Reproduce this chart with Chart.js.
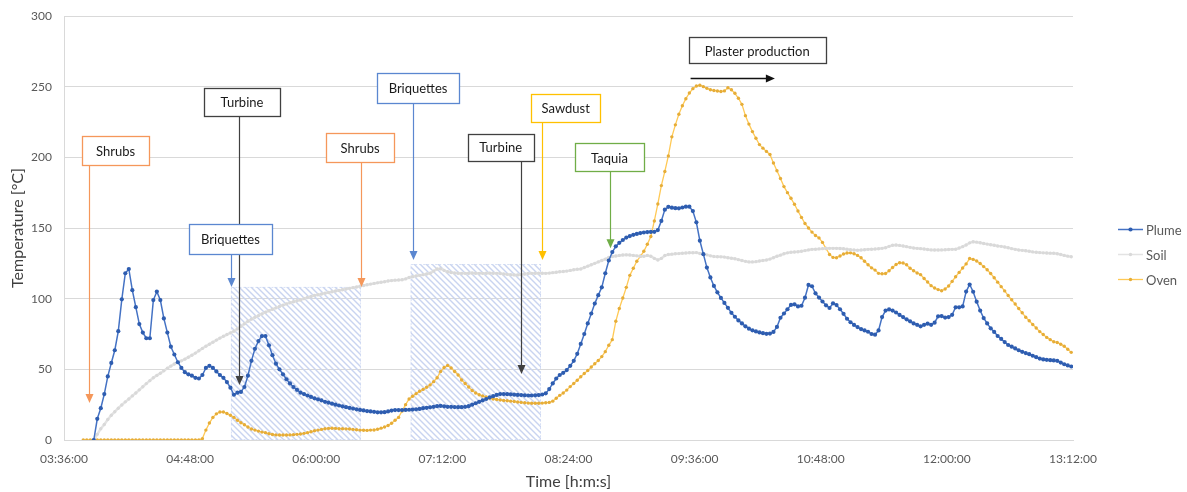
<!DOCTYPE html>
<html>
<head>
<meta charset="utf-8">
<script src="https://cdn.jsdelivr.net/npm/chart.js@4.4.0/dist/chart.umd.min.js"></script>
<style>
  html, body { margin: 0; padding: 0; background: #fff; }
  canvas { display: block; }
</style>
</head>
<body>
<canvas id="chart" width="1187" height="492" style="width:1187px;height:492px"></canvas>
<script>
// time in minutes after midnight, one reading every 2 minutes from 03:47
const timeStart = 227;
const timeStep = 2;
const xTicks = { min: 216, max: 792, step: 72 };   // 03:36:00 .. 13:12:00
const yTicks = { min: 0, max: 300, step: 50 };

const plume = [
  null, null, null, 0, 15, 22.5, 32.5, 45, 54.5, 63.5,
  77, 99.5, 118, 121, 106, 94, 82, 76, 72, 72,
  99, 105, 99, 86, 76, 66, 60.5, 55, 51, 48,
  46.5, 45.5, 44, 43.5, 46, 51, 52.5, 51, 48.5, 46,
  44, 41, 37, 32, 33.5, 34, 37.5, 45.5, 56, 64.5,
  70, 73.5, 73.5, 67, 60, 54, 50, 46.5, 43, 40,
  37.5, 35.5, 33.5, 32.5, 31.5, 30.5, 29.5, 28.8, 28, 27,
  26.4, 25.7, 25, 24.4, 23.8, 23.2, 22.7, 22.2, 21.7, 21.3,
  20.9, 20.5, 20.2, 19.9, 19.6, 19.6, 19.7, 20.2, 20.8, 21.2,
  21.2, 21.2, 21.3, 21.4, 21.5, 21.7, 22, 22.5, 22.8, 23.1,
  23.5, 23.9, 24.1, 23.8, 23.5, 23.5, 23.3, 23.2, 23.2, 23.5,
  23.9, 25, 26, 27, 28, 29, 30.1, 31, 31.9, 32.5,
  32.5, 32.4, 32.3, 32.1, 31.9, 31.8, 31.6, 31.5, 31.5, 31.6,
  31.8, 32.2, 33, 36, 40, 43.5, 46, 47.5, 49.5, 52.5,
  56, 61, 68, 75, 82.5, 89.5, 96.5, 102.5, 108, 118,
  127, 133, 137, 139.5, 141.5, 143.2, 144.3, 145.2, 145.8, 146.4,
  146.8, 147.1, 147.2, 147.3, 148.5, 155, 163, 165, 164.4, 164,
  163.9, 164.5, 165.1, 165.1, 162, 154, 141, 131.5, 122, 115,
  109, 104.5, 100.5, 97, 93.5, 90, 87.2, 84.6, 82.5, 80.4,
  78.8, 77.6, 76.8, 76.1, 75.6, 75.1, 75.3, 76.5, 80, 86.5,
  89.5, 92.5, 95.6, 96, 94.5, 95, 100.7, 109.7, 108.8, 103.8,
  100.8, 98, 95.3, 93.4, 96.7, 95.5, 92.5, 89.3, 85.8, 83.3,
  81.4, 79.9, 78.5, 77.5, 76.6, 75, 74.5, 77.5, 87, 91.6,
  92.4, 91.6, 90.2, 88.5, 87, 85.4, 84, 82.5, 81.5, 80.4,
  81.5, 82.3, 81.5, 83, 87.5, 87.7, 86.6, 87, 88.6, 93.9,
  93.9, 94.5, 105, 110, 104.9, 97.9, 91.6, 86.3, 82.5, 79,
  76.5, 73.6, 71.5, 69.3, 67.2, 66, 64.8, 63.5, 62.4, 61.5,
  60.7, 59.6, 58.6, 57.6, 57, 56.7, 56.5, 56.3, 56, 54.8,
  53.6, 52.8, 52
];

const soil = [
  null, null, null, 0, 4, 8, 11, 14.5, 17.5, 20,
  22.5, 24.8, 27, 29, 31.2, 33.3, 35.5, 37.7, 39.9, 42,
  44, 45.7, 47.2, 49, 50.8, 52.3, 53.8, 55, 56, 57.2,
  58.6, 60, 61.5, 63.1, 64.8, 66.3, 67.8, 69.2, 70.7, 72.1,
  73.4, 74.6, 75.8, 77, 78.7, 80.5, 82.2, 84, 85.5, 86.8,
  88, 89.2, 90.4, 91.5, 92.5, 93.5, 94.5, 95.4, 96.3, 97.1,
  97.8, 98.5, 99.1, 100, 100.8, 101.5, 102.2, 102.8, 103.3, 103.9,
  104.4, 104.9, 105.4, 105.8, 106.3, 106.8, 107.3, 107.8, 108.3, 108.8,
  109.3, 109.8, 110.3, 110.8, 111.2, 111.6, 112, 112.5, 112.8, 113.1,
  113.2, 113.4, 114, 115, 115.5, 116, 116.5, 117, 117.5, 118,
  119.5, 121, 121.2, 120, 119, 118.5, 118.2, 118, 117.9, 117.9,
  118, 118.2, 118, 117.9, 117.9, 118, 118.1, 118, 117.9, 117.8,
  117.5, 117.2, 117, 116.8, 116.8, 117, 117.4, 117.8, 117.9, 118,
  118, 118, 117.9, 118.1, 118.4, 118.7, 119, 119.2, 119.5, 120,
  120.5, 120.8, 121, 122, 123, 124, 125, 126, 127, 128,
  129.2, 129.8, 130.2, 130.6, 130.9, 131, 130.9, 130.6, 130.3, 130,
  130, 130.6, 130, 128.5, 127.4, 128.5, 130.5, 131.2, 131.5, 131.8,
  131.9, 132.1, 132.3, 132.5, 132.5, 132.6, 132, 131.5, 131, 130.3,
  129.8, 129.7, 129.6, 129.4, 129, 128.6, 128.2, 127.6, 127, 126.4,
  126, 126, 126.2, 126.6, 127, 127.4, 128, 129, 130, 130.8,
  131.8, 132.4, 132.8, 133, 133.2, 133.5, 134, 134.5, 134.9, 135,
  135.2, 135.4, 135.6, 135.6, 135.6, 135.6, 135.5, 135.3, 135, 134.6,
  134.4, 134.3, 134.4, 134.6, 134.9, 135, 135.1, 135.3, 135.6, 136,
  137, 137.8, 138, 137.7, 137.3, 136.8, 136.3, 135.9, 135.6, 135.4,
  135.1, 134.8, 134.5, 134.4, 134.4, 134.5, 134.6, 134.8, 134.9, 135,
  135.8, 136.8, 138, 139.5, 140.3, 140, 139.6, 139, 138.6, 138.2,
  137.8, 137.3, 137, 136.6, 136, 135.4, 134.9, 134.4, 134.2, 133.9,
  133.5, 133.1, 132.8, 132.6, 132.4, 132.3, 132.2, 132.1, 131.8, 131.2,
  130.6, 130.1, 129.7
];

const oven = [
  0, 0, 0, 0, 0, 0, 0, 0, 0, 0,
  0, 0, 0, 0, 0, 0, 0, 0, 0, 0,
  0, 0, 0, 0, 0, 0, 0, 0, 0, 0,
  0, 0, 0, 0, 1, 7, 12, 16, 18.5, 19.8,
  19.8, 18.8, 17.5, 16, 14, 12.2, 10.8, 9.2, 7.8, 7,
  6.3, 5.6, 5.2, 4.4, 3.9, 3.6, 3.5, 3.5, 3.5, 3.6,
  3.8, 4, 4.2, 4.7, 5.2, 5.8, 6.5, 7, 7.5, 8,
  8.2, 8.3, 8.2, 8, 8, 7.9, 7.8, 7.5, 7.2, 7,
  6.9, 6.8, 7, 7.1, 7.6, 8.4, 9.2, 10.3, 11.8, 14,
  16, 20.5, 25, 29, 31, 32.8, 34.5, 35.8, 37.3, 39,
  41.3, 44, 48.5, 51.3, 52.8, 51, 48.5, 46, 42.5, 40,
  37.5, 35, 33.3, 32, 31.2, 30.4, 29.6, 29, 28.7, 28.3,
  28, 27.8, 27.5, 27.2, 26.9, 26.6, 26.4, 26.1, 26, 26,
  26, 26.1, 26.4, 26.6, 27.5, 29.5, 31.6, 33.3, 35.3, 37.8,
  40, 42.3, 44.7, 47, 49.2, 51.7, 54, 56.3, 59, 62.5,
  67, 71, 84, 93, 100.5, 108, 116.5, 121.5, 126.5, 130,
  133.5, 138.5, 144, 155, 167, 180, 190, 201, 214.5, 223,
  230.5, 236.5, 241.5, 245.5, 248.6, 250.5, 251, 250, 248.8, 247.8,
  247.3, 246.9, 246.6, 247, 249.2, 247.8, 245.3, 241.8, 237.5, 229.5,
  223.5, 218.2, 213.5, 209, 206.5, 204.2, 202, 196, 190.5, 185,
  179.3, 175, 171, 166.8, 162, 157.5, 153.2, 150, 147.1, 144.7,
  143, 139.8, 135.5, 131.3, 129.2, 129, 130.2, 131.6, 132.3, 132.4,
  131.8, 130.6, 128.9, 126.5, 124, 121.8, 120.2, 117.9, 117.6, 117.8,
  119.8, 122, 124.2, 125.4, 125.2, 124, 121.5, 119.8, 118.2, 117,
  114.3, 111.8, 109.2, 107.5, 106.4, 105.6, 106.8, 109, 112.2, 115.5,
  118.6, 121.7, 124.6, 128.4, 127.8, 126.7, 124.9, 122.7, 120.5, 117.8,
  114.8, 111.7, 108.5, 105.5, 102.2, 99.2, 96.2, 93, 90, 86.9,
  84.4, 81.7, 79.2, 76.7, 74.6, 72.6, 71, 69.5, 69, 67.8,
  66.3, 64.2, 62
];

// event labels: box centre (time, temp) and arrow (time, tip temp)
const events = [
  { text: 'Shrubs',     t: 245.4, temp: 204.8, w: 67, h: 29, color: '#f5975a', arrowT: 230.3, tipTemp: 26.2 },
  { text: 'Turbine',    t: 317.6, temp: 239.2, w: 76, h: 28, color: '#404040', arrowT: 315.9, tipTemp: 38.9 },
  { text: 'Briquettes', t: 311.0, temp: 142.2, w: 83, h: 30, color: '#5b87d0', arrowT: 311.3, tipTemp: 108.3 },
  { text: 'Shrubs',     t: 385.0, temp: 207.0, w: 68, h: 29, color: '#f5975a', arrowT: 385.5, tipTemp: 108.3 },
  { text: 'Briquettes', t: 418.1, temp: 249.4, w: 82, h: 30, color: '#5b87d0', arrowT: 415.0, tipTemp: 127.4 },
  { text: 'Turbine',    t: 465.3, temp: 207.3, w: 66, h: 27, color: '#404040', arrowT: 476.8, tipTemp: 46.7 },
  { text: 'Sawdust',    t: 502.4, temp: 234.9, w: 69, h: 28, color: '#ffc000', arrowT: 488.7, tipTemp: 127.4 },
  { text: 'Taquia',     t: 527.4, temp: 199.9, w: 69, h: 28, color: '#70ad47', arrowT: 527.6, tipTemp: 135.6 },
  { text: 'Plaster production', t: 611.7, temp: 275.7, w: 137, h: 26, color: '#404040' }
];
const plasterArrow = { t0: 573.7, t1: 621.8, temp: 256.3 };
const hatchAreas = [
  { t0: 311.3, t1: 385.5, top: 108.3 },
  { t0: 413.9, t1: 488.3, top: 124.5 }
];

function toPoints(values) {
  return values.map((v, i) => ({ x: timeStart + i * timeStep, y: v }));
}

function clock(v) {
  const h = Math.floor(v / 60), m = Math.round(v % 60);
  return String(h).padStart(2, '0') + ':' + String(m).padStart(2, '0') + ':00';
}

const FONT = 'Lato, "Open Sans", sans-serif';

function hatchPattern(ctx) {
  const s = 6;
  const c = document.createElement('canvas');
  c.width = s; c.height = s;
  const g = c.getContext('2d');
  g.strokeStyle = '#c9d4f0';
  g.lineWidth = 1.4;
  g.beginPath();
  g.moveTo(-1, -1); g.lineTo(s + 1, s + 1);
  g.moveTo(-1, s - 1); g.lineTo(1, s + 1);
  g.moveTo(s - 1, -1); g.lineTo(s + 1, 1);
  g.stroke();
  return ctx.createPattern(c, 'repeat');
}

function arrowHead(ctx, x, y, dir, color) {
  // dir: 'down' or 'right'
  ctx.fillStyle = color;
  ctx.beginPath();
  if (dir === 'down') {
    ctx.moveTo(x, y); ctx.lineTo(x - 4, y - 9); ctx.lineTo(x + 4, y - 9);
  } else {
    ctx.moveTo(x, y); ctx.lineTo(x - 9, y - 4); ctx.lineTo(x - 9, y + 4);
  }
  ctx.closePath();
  ctx.fill();
}

const annotations = {
  id: 'annotations',
  beforeDatasetsDraw(chart) {
    const { ctx, scales: { x, y } } = chart;
    const pat = hatchPattern(ctx);
    ctx.save();
    hatchAreas.forEach(a => {
      const x0 = x.getPixelForValue(a.t0), x1 = x.getPixelForValue(a.t1);
      const y0 = y.getPixelForValue(a.top), y1 = y.getPixelForValue(0);
      ctx.fillStyle = pat;
      ctx.fillRect(x0, y0, x1 - x0, y1 - y0);
      ctx.strokeStyle = 'rgba(205,216,242,0.8)';
      ctx.lineWidth = 1;
      ctx.setLineDash([2, 2]);
      ctx.strokeRect(x0 + 0.5, y0 + 0.5, x1 - x0 - 1, y1 - y0 - 1);
      ctx.setLineDash([]);
    });
    ctx.restore();
  },
  afterDatasetsDraw(chart) {
    const { ctx, scales: { x, y } } = chart;
    ctx.save();
    // arrows first, boxes on top of them
    events.forEach(e => {
      if (e.arrowT === undefined) return;
      const ax = Math.round(x.getPixelForValue(e.arrowT)) + 0.5;
      const top = y.getPixelForValue(e.temp) + e.h / 2;
      const tip = y.getPixelForValue(e.tipTemp);
      ctx.strokeStyle = e.color;
      ctx.lineWidth = 1.2;
      ctx.beginPath();
      ctx.moveTo(ax, top);
      ctx.lineTo(ax, tip - 8);
      ctx.stroke();
      arrowHead(ctx, ax, tip, 'down', e.color);
    });
    const px0 = x.getPixelForValue(plasterArrow.t0);
    const px1 = x.getPixelForValue(plasterArrow.t1);
    const py = Math.round(y.getPixelForValue(plasterArrow.temp)) + 0.5;
    ctx.strokeStyle = '#111';
    ctx.lineWidth = 1.5;
    ctx.beginPath();
    ctx.moveTo(px0, py); ctx.lineTo(px1 - 8, py);
    ctx.stroke();
    arrowHead(ctx, px1, py, 'right', '#111');

    ctx.font = '13px ' + FONT;
    ctx.textAlign = 'center';
    ctx.textBaseline = 'middle';
    events.forEach(e => {
      const cx = x.getPixelForValue(e.t), cy = y.getPixelForValue(e.temp);
      const bx = Math.round(cx - e.w / 2) + 0.5, by = Math.round(cy - e.h / 2) + 0.5;
      ctx.fillStyle = '#fff';
      ctx.fillRect(bx, by, e.w, e.h);
      ctx.strokeStyle = e.color;
      ctx.lineWidth = 1.3;
      ctx.strokeRect(bx, by, e.w, e.h);
      ctx.fillStyle = '#1a1a1a';
      ctx.fillText(e.text, cx, cy + 1);
    });

    // legend
    const items = [
      { label: 'Plume', ds: chart.data.datasets[0] },
      { label: 'Soil', ds: chart.data.datasets[1] },
      { label: 'Oven', ds: chart.data.datasets[2] }
    ];
    ctx.textAlign = 'left';
    ctx.font = '13px ' + FONT;
    items.forEach((it, i) => {
      const ly = 229.5 + i * 25;
      ctx.strokeStyle = it.ds.borderColor;
      ctx.lineWidth = Math.min(it.ds.borderWidth, 1.5);
      ctx.beginPath();
      ctx.moveTo(1118, ly); ctx.lineTo(1143, ly);
      ctx.stroke();
      ctx.fillStyle = it.ds.pointBackgroundColor;
      ctx.beginPath();
      ctx.arc(1130.5, ly, it.ds.pointRadius, 0, Math.PI * 2);
      ctx.fill();
      ctx.fillStyle = '#595959';
      ctx.fillText(it.label, 1146, ly + 1);
    });
    ctx.restore();
  }
};

const ctx = document.getElementById('chart').getContext('2d');
new Chart(ctx, {
  type: 'line',
  data: {
    datasets: [
      {
        label: 'Plume', data: toPoints(plume),
        borderColor: '#4472c4', borderWidth: 1.5,
        pointRadius: 2.1, pointBorderWidth: 0,
        pointBackgroundColor: '#2e5db0', backgroundColor: '#2e5db0'
      },
      {
        label: 'Soil', data: toPoints(soil),
        borderColor: '#e3e3e3', borderWidth: 2.5,
        pointRadius: 1.7, pointBorderWidth: 0,
        pointBackgroundColor: '#d9d9d9', backgroundColor: '#d9d9d9'
      },
      {
        label: 'Oven', data: toPoints(oven),
        borderColor: '#ffc955', borderWidth: 1.3,
        pointRadius: 1.7, pointBorderWidth: 0,
        pointBackgroundColor: '#e6ad38', backgroundColor: '#e6ad38'
      }
    ]
  },
  options: {
    responsive: false,
    animation: false,
    events: [],
    layout: { padding: { left: 0, right: 114, top: 16, bottom: 0 } },
    plugins: { legend: { display: false }, tooltip: { enabled: false } },
    scales: {
      x: {
        type: 'linear',
        min: xTicks.min, max: xTicks.max,
        afterFit: s => { s.height = 52; },
        afterBuildTicks: s => {
          s.ticks = [];
          for (let v = xTicks.min; v <= xTicks.max; v += xTicks.step) s.ticks.push({ value: v });
        },
        ticks: {
          callback: v => clock(v),
          color: '#595959', font: { family: FONT, size: 12 },
          padding: 12, maxRotation: 0, autoSkip: false
        },
        grid: { display: false, drawTicks: false },
        border: { color: '#d9d9d9', width: 1 },
        title: {
          display: true, text: 'Time [h:m:s]', color: '#404040',
          font: { family: FONT, size: 16 }, padding: { top: 0, bottom: 1 }
        }
      },
      y: {
        min: yTicks.min, max: yTicks.max,
        afterFit: s => { s.width = 64; s.paddingTop = 0; s.paddingBottom = 0; },
        ticks: {
          stepSize: yTicks.step,
          color: '#595959', font: { family: FONT, size: 12 }, padding: 12
        },
        grid: { color: '#d9d9d9', drawTicks: false },
        border: { color: '#d9d9d9', width: 1 },
        title: {
          display: true, text: 'Temperature [°C]', color: '#404040',
          font: { family: FONT, size: 16 }, padding: { top: 8, bottom: 0 }
        }
      }
    }
  },
  plugins: [annotations]
});
</script>
</body>
</html>
